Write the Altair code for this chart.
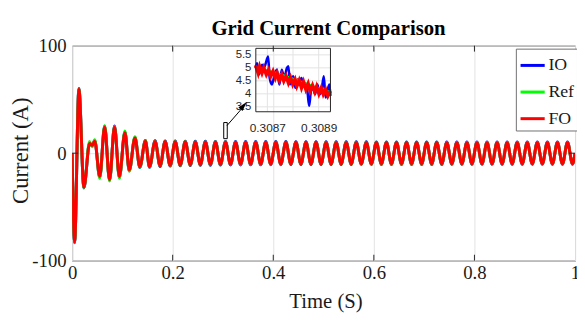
import altair as alt
import pandas as pd

# ---------------- texts ----------------
chart_title = ["Grid Current Comparison"]

# ---------------- main signal: extrema ----------------
trans_t = [0.000, 0.005, 0.0135, 0.0235, 0.0347, 0.0400, 0.0450, 0.0550, 0.0647,
           0.0745, 0.0843, 0.0940, 0.1050, 0.1137, 0.1250, 0.1347, 0.1457, 0.1540]
fo_trans = [0, -82.6, 59.5, -31.6, 9.0, 7.2, 11.1, -21.6, 24.3,
            -24.6, 24.3, -21.6, 19.1, -15.6, 14.2, -12.6, 11.1, -12.6]
io_trans = [0, -83.4, 60.3, -32.4, 9.6, 6.8, 11.8, -22.4, 25.0,
            -25.2, 25.2, -22.6, 19.8, -16.4, 14.9, -13.3, 11.7, -13.2]
ref_trans = [0, -83.0, 60.0, -32.0, 10.8, 6.0, 12.6, -23.4, 25.5,
             -25.8, 24.9, -23.4, 20.7, -16.8, 15.4, -13.2, 11.6, -13.0]

PERIOD = 0.02
FIRST_STEADY_PEAK = 0.165
END_T = 1.0
steady_peaks = [11.0, 10.8, 10.7, 10.6, 10.5, 10.5, 10.4, 10.4, 10.3, 10.3, 10.3, 10.2,
                10.2, 10.2, 10.1, 10.1, 10.1, 10.0, 10.0, 10.0, 10.0, 10.0, 9.9, 9.9,
                9.9, 9.9, 9.9, 9.9, 9.9, 9.8, 9.8, 9.8, 9.8, 9.8, 9.8, 9.8, 9.8, 9.8,
                9.8, 9.8, 9.8, 9.8]
steady_troughs = [-11.8, -11.4, -11.1, -10.9, -10.7, -10.6, -10.5, -10.4, -10.3, -10.2,
                  -10.2, -10.1, -10.1, -10.0, -10.0, -10.0, -9.9, -9.9, -9.9, -9.9, -9.8,
                  -9.8, -9.8, -9.8, -9.8, -9.8, -9.8, -9.8, -9.8, -9.7, -9.7, -9.7, -9.7,
                  -9.7, -9.7, -9.7, -9.7, -9.7, -9.7, -9.7, -9.7, -9.7]
IO_EXTRA = 0.6   # blue peeks out at the extremes
REF_EXTRA = 0.2

series_names = ["IO", "Ref", "FO"]
series_colors = ["#0000ff", "#00ff00", "#ff0000"]

# ---------------- inset (zoom) data ----------------
inset_x_domain = [0.308655, 0.308946]
inset_y_domain = [3.31, 5.75]
inset_x_ticks = [0.3087, 0.3088, 0.3089]
inset_y_ticks = [3.5, 4.0, 4.5, 5.0, 5.5]

io_in_t = [0.308654, 0.308660, 0.308667, 0.308673, 0.308680, 0.308686, 0.308692, 0.308703,
           0.308709, 0.308718, 0.308728, 0.308737, 0.308747, 0.308756, 0.308766, 0.308776,
           0.308782, 0.308788, 0.308795, 0.308801, 0.308809, 0.308818, 0.308824, 0.308833,
           0.308840, 0.308847, 0.308856, 0.308863, 0.308870, 0.308878, 0.308886, 0.308895,
           0.308904, 0.308911, 0.308920, 0.308927, 0.308934, 0.308942, 0.308946]
io_in_v = [4.99, 5.18, 4.74, 4.93, 5.12, 4.99, 5.12, 5.44, 4.61, 4.36, 4.74, 4.93, 4.36,
           4.93, 4.61, 4.99, 5.06, 4.36, 4.61, 4.68, 4.23, 4.55, 4.36, 4.61, 4.30, 4.42,
           4.11, 3.54, 4.11, 4.23, 3.98, 4.36, 3.98, 4.11, 4.68, 3.86, 4.11, 4.36, 3.92]

fo_in_t = [0.308654, 0.308664, 0.308670, 0.308679, 0.308686, 0.308696, 0.308705, 0.308713,
           0.308722, 0.308731, 0.308738, 0.308747, 0.308756, 0.308764, 0.308773, 0.308782,
           0.308790, 0.308799, 0.308808, 0.308815, 0.308824, 0.308833, 0.308841, 0.308850,
           0.308859, 0.308867, 0.308876, 0.308885, 0.308892, 0.308901, 0.308910, 0.308918,
           0.308927, 0.308936, 0.308946]
fo_in_v = [5.10, 4.80, 5.05, 4.80, 5.00, 4.74, 4.93, 4.68, 4.87, 4.61, 4.80, 4.52, 4.74,
           4.49, 4.68, 4.42, 4.63, 4.36, 4.55, 4.30, 4.52, 4.23, 4.46, 4.17, 4.39, 4.11,
           4.33, 4.08, 4.28, 4.00, 4.23, 3.98, 4.17, 3.92, 4.11]

ref_in_t = [0.308654, 0.308709, 0.308756, 0.308808, 0.308859, 0.308910, 0.308946]
ref_in_v = [5.02, 4.87, 4.74, 4.55, 4.36, 4.17, 4.05]

# ---------------- annotations (zoom marker + arrow), in data units ----------------
marker_t = [0.3015]
marker_t2 = [0.3085]
marker_v = [13.5]
marker_v2 = [28.5]
arrow_t = [0.3080, 0.3440]
arrow_v = [25.7, 45.0]
head_t = [0.3394]
head_v = [43.4]

x_ticks = [0, 0.2, 0.4, 0.6, 0.8, 1]
y_ticks = [-100, 0, 100]

W, H = 510, 218
SERIF = "Liberation Serif"
SANS = "Liberation Sans"


def build(trans_v, extra):
    ts = list(trans_t)
    vs = list(trans_v)
    for k, (p, q) in enumerate(zip(steady_peaks, steady_troughs)):
        tp = FIRST_STEADY_PEAK + k * PERIOD
        ts += [tp, tp + PERIOD / 2]
        vs += [p + extra, q - extra]
    ts.append(END_T)
    vs.append(0.0)
    return ts, vs


main_frames = []
for name, tv, extra in [("IO", io_trans, IO_EXTRA), ("Ref", ref_trans, REF_EXTRA), ("FO", fo_trans, 0.0)]:
    ts, vs = build(tv, extra)
    main_frames.append(pd.DataFrame({"t": ts, "v": vs, "series": name}))

# ---------------- scales / axes ----------------
xs = alt.Scale(domain=[0, 1], nice=False, zero=False)
ys = alt.Scale(domain=[-100, 100], nice=False, zero=False)

x_axis = alt.Axis(values=x_ticks, labelExpr="'' + datum.value", grid=True, gridColor="#e3e3e3",
                  ticks=False, domain=False, labelFont=SERIF, labelFontSize=19, labelColor="#1a1a1a",
                  labelPadding=3, title="Time (S)", titleFont=SERIF, titleFontSize=21,
                  titleFontWeight="normal", titleColor="#1a1a1a", titleX=W / 2 + 2, titleY=42,
                  titleBaseline="middle", labelFlush=False)
y_axis = alt.Axis(values=y_ticks, labelExpr="'' + datum.value", grid=True, gridColor="#e3e3e3",
                  ticks=False, domain=False, labelFont=SERIF, labelFontSize=19, labelColor="#1a1a1a",
                  labelPadding=6, title="Current (A)", titleFont=SERIF, titleFontSize=23,
                  titleFontWeight="normal", titleColor="#1a1a1a", titleX=-52, titleY=H / 2 - 3,
                  titleBaseline="middle", titleAngle=-90, labelFlush=False)

X = alt.X("t:Q", scale=xs, axis=x_axis)
Y = alt.Y("v:Q", scale=ys, axis=y_axis)

color = alt.Color("series:N", scale=alt.Scale(domain=series_names, range=series_colors),
                  legend=alt.Legend(title=None, orient="none", legendX=450, legendY=3,
                                    symbolType="stroke", symbolSize=600, symbolStrokeWidth=3,
                                    labelFont=SERIF, labelFontSize=18, labelColor="#1a1a1a",
                                    padding=3, strokeColor="#707070", fillColor="white",
                                    rowPadding=4, labelOffset=2, cornerRadius=0))

main_lines = [
    alt.Chart(df).mark_line(strokeWidth=3, interpolate="monotone", clip=True).encode(x=X, y=Y, color=color)
    for df in main_frames
]

# inward ticks
xt_df = pd.DataFrame({"t": x_ticks[1:-1]})
yt_df = pd.DataFrame({"v": [0]})
ticks_bottom = alt.Chart(xt_df).mark_rule(color="#262626", strokeWidth=1).encode(
    x=X, y=alt.value(H), y2=alt.value(H - 6))
ticks_top = alt.Chart(xt_df).mark_rule(color="#262626", strokeWidth=1).encode(
    x=X, y=alt.value(0), y2=alt.value(6))
ticks_left = alt.Chart(yt_df).mark_rule(color="#262626", strokeWidth=1).encode(
    y=Y, x=alt.value(0), x2=alt.value(6))
ticks_right = alt.Chart(yt_df).mark_rule(color="#262626", strokeWidth=1).encode(
    y=Y, x=alt.value(W), x2=alt.value(W - 6))

marker = alt.Chart(pd.DataFrame({"t": marker_t, "t2": marker_t2, "v": marker_v, "v2": marker_v2})).mark_rect(
    fill="white", stroke="black", strokeWidth=1).encode(x=X, x2="t2:Q", y=Y, y2="v2:Q")
arrow = alt.Chart(pd.DataFrame({"t": arrow_t, "v": arrow_v})).mark_line(
    color="black", strokeWidth=1).encode(x=X, y=Y)
head = alt.Chart(pd.DataFrame({"t": head_t, "v": head_v})).mark_point(
    shape="M0,-1L0.45,0.6L-0.45,0.6Z", size=150, filled=True, color="black", opacity=1, angle=40
).encode(x=X, y=Y)

title_mark = alt.Chart(pd.DataFrame({"title": chart_title})).mark_text(
    font=SERIF, fontSize=21, fontWeight="bold", color="#000000", baseline="alphabetic", align="center"
).encode(text="title:N", x=alt.value(W / 2 + 5), y=alt.value(-11))

main = alt.layer(*main_lines, ticks_bottom, ticks_top, ticks_left, ticks_right, marker, arrow, head,
                 title_mark)

# ---------------- inset ----------------
ix = alt.Scale(domain=inset_x_domain, range=[186.3, 262.0], nice=False, zero=False)
iy = alt.Scale(domain=inset_y_domain, range=[67.0, 2.7], nice=False, zero=False)
ix_axis = alt.Axis(orient="bottom", offset=-(H - 67), values=inset_x_ticks,
                   labelExpr="format(datum.value, '.4f') == '0.3088' ? '' : format(datum.value, '.4f')",
                   grid=False, ticks=False, domain=False, labelFont=SANS, labelFontSize=12,
                   labelColor="#262626", labelPadding=11, title=None, labelFlush=False, labelOverlap=False)
iy_axis = alt.Axis(orient="left", offset=-186.3, values=inset_y_ticks, labelExpr="'' + datum.value",
                   grid=False, ticks=False, domain=False, labelFont=SANS, labelFontSize=11.5,
                   labelColor="#262626", labelPadding=5, title=None, labelFlush=False, labelOverlap=False)
IX = alt.X("t:Q", scale=ix, axis=ix_axis)
IY = alt.Y("v:Q", scale=iy, axis=iy_axis)

igrid_v = alt.Chart(pd.DataFrame({"t": inset_x_ticks, "v": inset_y_domain[0], "v2": inset_y_domain[1]})).mark_rule(
    color="#e3e3e3", strokeWidth=1).encode(x=IX, y=IY, y2="v2:Q")
igrid_h = alt.Chart(pd.DataFrame({"v": inset_y_ticks, "t": inset_x_domain[0], "t2": inset_x_domain[1]})).mark_rule(
    color="#e3e3e3", strokeWidth=1).encode(y=IY, x=IX, x2="t2:Q")
ibox = alt.Chart(pd.DataFrame({"t": [inset_x_domain[0]], "t2": [inset_x_domain[1]],
                               "v": [inset_y_domain[0]], "v2": [inset_y_domain[1]]})).mark_rect(
    fill="white", fillOpacity=0, stroke="#262626", strokeWidth=1).encode(x=IX, x2="t2:Q", y=IY, y2="v2:Q")
iio = alt.Chart(pd.DataFrame({"t": io_in_t, "v": io_in_v})).mark_line(
    color="#0000ff", strokeWidth=2.5, interpolate="monotone").encode(x=IX, y=IY)
iref = alt.Chart(pd.DataFrame({"t": ref_in_t, "v": ref_in_v})).mark_line(
    color="#00ff00", strokeWidth=2.5).encode(x=IX, y=IY)
ifo = alt.Chart(pd.DataFrame({"t": fo_in_t, "v": fo_in_v})).mark_line(
    color="#ff0000", strokeWidth=3.5).encode(x=IX, y=IY)

inset = alt.layer(igrid_v, igrid_h, iio, iref, ifo, ibox)

chart = alt.layer(main, inset).resolve_scale(x="independent", y="independent").resolve_axis(
    x="independent", y="independent"
).properties(
    width=W, height=H,
    padding={"left": 65, "top": 36, "right": 2, "bottom": 62},
    autosize=alt.AutoSizeParams(type="none"),
).configure_view(stroke="#262626", strokeWidth=1).configure_legend(labelFont=SERIF)

chart.save("out.html", embed_options={"renderer": "svg", "actions": False})
